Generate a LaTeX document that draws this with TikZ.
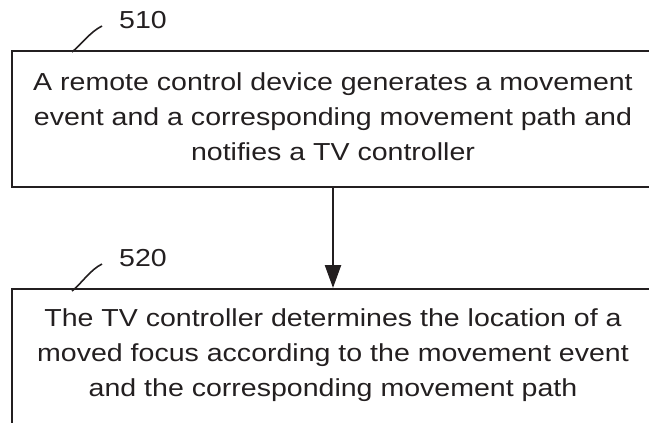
\documentclass[tikz,border=0pt]{standalone}
\usepackage{fontspec}
\setmainfont[FakeStretch=1.16]{Liberation Sans}
\usetikzlibrary{arrows.meta}
\definecolor{ink}{HTML}{231F20}
\begin{document}
\begin{tikzpicture}[x=1pt,y=-1pt,
  frame/.style={draw=ink,line width=2pt,minimum width=642pt,inner sep=0pt},
  steptext/.style={text=ink,align=center,font=\fontsize{24.6}{35}\selectfont,inner sep=0pt},
  reflabel/.style={text=ink,font=\fontsize{24.6}{29}\selectfont,inner sep=0pt,anchor=west},
  leader/.style={draw=ink,line width=1.6pt},
  flow/.style={draw=ink,line width=2.4pt,-{Triangle[width=16pt,length=23pt]}}]
\useasboundingbox (0,0) rectangle (649,423);
\clip (0,0) rectangle (649,423);
% step boxes (right edges run off the page)
\node[frame,minimum height=136pt] (box1) at (333,119) {};
\node[frame,minimum height=180pt] (box2) at (333,379) {};
% step texts
\node[steptext] (t1) at (333,117) {A remote control device generates a movement\\event and a corresponding movement path and\\notifies a TV controller};
\node[steptext] (t2) at (333,355) {The TV controller determines the location of a\\moved focus according to the movement event\\and the corresponding movement path};
% reference numerals with leaders
\node[reflabel] (n510) at (119,20) {510};
\node[reflabel] (n520) at (119,258) {520};
\coordinate (a510) at (72,52);
\coordinate (b510) at (102,26);
\coordinate (a520) at (72,291);
\coordinate (b520) at (102,264);
\draw[leader] (a510) .. controls (82,44) and (90,32) .. (b510);
\draw[leader] (a520) .. controls (82,283) and (90,270) .. (b520);
% flow arrow
\draw[flow] (box1.south) -- (box2.north);
\end{tikzpicture}
\end{document}
